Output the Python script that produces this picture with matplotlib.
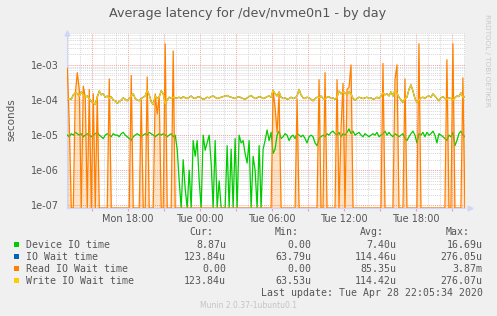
import matplotlib
matplotlib.use('Agg')
import matplotlib.pyplot as plt
import matplotlib.dates as mdates
import numpy as np
import pandas as pd
from matplotlib.ticker import FixedLocator, FixedFormatter, NullFormatter
from matplotlib.patches import Rectangle

# ---------------- data (5-min RRD sampled every 10 minutes, values in microseconds) -------------
start_time = '2020-04-27 12:55'
n_samples = 200

device_io_us = [
    10, 9, 11, 10, 12, 11, 10, 11, 9, 10,
    11, 10, 9, 10, 11, 12, 10, 9, 8, 10,
    11, 10, 9, 11, 10, 10, 9, 11, 12, 10,
    9, 8, 7, 9, 10, 11, 10, 9, 10, 11,
    10, 12, 11, 10, 9, 10, 11, 10, 11, 10,
    9, 10, 11, 9, 10, 4, 0.5, 0, 2, 0.3,
    0, 1, 0, 7, 2.5, 7, 0.5, 0, 10, 3.7,
    6, 10, 1.6, 0, 7, 0, 0.5, 0, 0, 0,
    5, 0, 4, 0, 8, 0, 10, 6, 7, 3,
    1.6, 7, 0, 2.5, 1, 0, 5, 0, 4, 7,
    14, 7, 12, 3, 4, 10, 13,
    8, 9, 11, 10, 7, 9, 10, 8, 11, 10,
    9, 10, 8, 6, 9, 10, 9, 6, 5, 8,
    9, 10, 9, 11, 10, 12, 13, 11, 10, 12,
    9, 11, 10, 12, 15, 11, 13, 10, 11, 12,
    10, 9, 11, 10, 9, 10, 11, 10, 12, 9,
    10, 11, 13, 10, 12, 10, 9, 11, 10, 9,
    10, 11, 8, 7, 9, 11, 13, 10, 6, 11,
    10, 12, 9, 12, 10, 11, 13, 10, 6, 11,
    10, 9, 8, 7, 10, 9, 12, 5, 7, 11,
    13, 10, 9,
]

write_wait_us = [
    100, 110, 105, 140, 160, 150, 130, 170, 140, 120,
    130, 110, 90, 85, 75, 120, 180, 140, 150, 120,
    130, 110, 125, 100, 95, 80, 90, 100, 115, 105,
    95, 110, 130, 150, 110, 100, 95, 110, 120, 130,
    190, 140, 90, 75, 130, 110, 120, 185, 150, 80,
    100, 120, 110, 120, 115,
    115, 120, 110, 125, 115, 110, 120, 130,
    115, 110, 120, 125, 115, 105, 110, 120,
    115, 125, 130, 120, 110, 115, 120, 125,
    130, 135, 125, 120, 115, 110, 120, 125,
    115, 110, 105, 115, 125, 135, 120, 110,
    115, 125, 120, 110, 115, 125, 130, 120,
    190, 150, 130, 170, 120, 110, 115, 105, 110, 120,
    110, 115, 130, 200, 140, 115, 110, 120, 115, 105,
    95, 110, 120, 115, 130, 110, 105, 120, 125, 110,
    115, 105, 120, 180, 150, 170, 160, 140, 170, 150,
    110, 100, 110, 120, 115, 110, 115, 120, 110, 115,
    105, 110, 120, 110, 130, 160, 140, 150, 130, 170,
    130, 190, 160, 120, 100, 85, 110, 120, 200, 270,
    180, 110, 85, 100, 115, 120, 110, 125, 130, 120,
    150, 130, 110, 95, 115, 125, 110, 105, 115, 110,
    100, 115, 130, 125, 160, 120, 124,
]

io_wait_us = list(write_wait_us)

read_wait_us = [
    800, 20, 0, 0, 150, 600, 200, 0, 250, 120,
    0, 200, 0, 150, 0, 130, 0, 0, 0, 0,
    0, 400, 0, 0, 0, 0, 0, 0, 0, 0,
    0, 0, 500, 0, 0, 0, 0, 100, 0, 0,
    450, 0, 0, 0, 150, 40, 130, 0, 0, 4000,
    0, 0, 0, 2500, 0, 0, 0, 0, 0, 0,
    0, 0, 0, 0, 0, 0, 0, 0, 0, 0,
    0, 0, 0, 0, 0, 0, 0, 0, 0, 0,
    0, 0, 0, 0, 0, 0, 0, 0, 0, 0,
    0, 0, 0, 0, 0, 0, 0, 0, 0, 0,
    0, 0, 0, 190, 60, 12, 150, 0, 0, 0,
    0, 0, 0, 0, 0, 110, 0, 0, 0, 0,
    0, 0, 0, 0, 0, 0, 380, 0, 0, 600,
    0, 0, 0, 0, 0, 380, 0, 15, 300, 0,
    200, 230, 1000, 0, 0, 0, 0, 0, 0, 0,
    0, 0, 0, 0, 0, 0, 0, 0, 1100, 0,
    0, 0, 0, 0, 380, 1000, 0, 0, 0, 400,
    0, 0, 0, 0, 0, 0, 4000, 0, 0, 0,
    0, 0, 0, 0, 0, 0, 0, 0, 0, 0,
    1400, 0, 0, 4000, 0, 0, 0, 0, 430, 0,
]

series_names = ['Device IO time', 'IO Wait time', 'Read IO Wait time', 'Write IO Wait time']
series_colors = ['#00CC00', '#0066B3', '#FF8000', '#FFCC00']
stat_cur = ['8.87u', '123.84u', '0.00', '123.84u']
stat_min = ['0.00', '63.79u', '0.00', '63.53u']
stat_avg = ['7.40u', '114.46u', '85.35u', '114.42u']
stat_max = ['16.69u', '276.05u', '3.87m', '276.07u']

ytick_values = [1e-7, 1e-6, 1e-5, 1e-4, 1e-3]
ytick_labels = ['1e-07', '1e-06', '1e-05', '1e-04', '1e-03']

title = 'Average latency for /dev/nvme0n1 - by day'
last_update = 'Last update: Tue Apr 28 22:05:34 2020'
# ---------------------------------------------------------------------------------------------

W, H = 497, 316
fig = plt.figure(figsize=(W / 100, H / 100), dpi=100, facecolor='#F0F0F0')
ax = fig.add_axes([67 / W, 1 - 208 / H, 398 / W, 175 / H])
ax.set_facecolor('white')

times = pd.date_range(start_time, periods=n_samples, freq='10min')
YMIN, YMAX = 8.4e-8, 8.1e-3


def to_plot(vals):
    a = np.asarray(vals, dtype=float) * 1e-6
    return np.where(a > 0, a, YMIN)


ax.set_yscale('log')
ax.set_ylim(YMIN, YMAX)
ax.set_xlim(pd.Timestamp('2020-04-27 12:53:30'), pd.Timestamp('2020-04-28 22:05:30'))

# grid
red_grid = '#F4A0A0'
gray_grid = '#D8D8D8'
dot = (0, (1, 1))
ax.yaxis.set_major_locator(FixedLocator(ytick_values))
ax.yaxis.set_major_formatter(FixedFormatter(ytick_labels))
minor_vals = [m * 10.0 ** e for e in range(-8, -2) for m in range(2, 10)]
ax.yaxis.set_minor_locator(FixedLocator(minor_vals))
ax.yaxis.set_minor_formatter(NullFormatter())

ax.xaxis.set_major_locator(mdates.HourLocator(byhour=range(0, 24, 3)))
ax.xaxis.set_minor_locator(mdates.HourLocator())


def fmt(x, pos=None):
    d = mdates.num2date(x)
    if d.hour % 6 == 0:
        return d.strftime('%a %H:%M')
    return ''


ax.xaxis.set_major_formatter(plt.FuncFormatter(fmt))

ax.grid(which='minor', axis='both', color=gray_grid, linestyle=dot, linewidth=0.7, zorder=0)
ax.grid(which='major', axis='both', color=red_grid, linestyle=dot, linewidth=0.7, zorder=0)
ax.set_axisbelow(True)

ax.tick_params(axis='both', which='both', length=0, labelsize=7, labelcolor='#555555')
ax.tick_params(axis='x', which='major', length=2, color=red_grid, pad=2)
ax.tick_params(axis='y', which='major', pad=6)

for s in ['top', 'right']:
    ax.spines[s].set_visible(False)
for s in ['left', 'bottom']:
    ax.spines[s].set_color('#CFD6F8')
    ax.spines[s].set_linewidth(0.8)

# data
orange_plot = to_plot(read_wait_us)
ax.fill_between(times, orange_plot, YMIN, color='#FF8000', alpha=0.22, linewidth=0, zorder=2)
lw = 0.9
ax.plot(times, to_plot(device_io_us), color=series_colors[0], lw=lw, zorder=3)
ax.plot(times, to_plot(io_wait_us), color=series_colors[1], lw=lw, zorder=3)
ax.plot(times, orange_plot, color=series_colors[2], lw=lw, zorder=3)
ax.plot(times, to_plot(write_wait_us), color=series_colors[3], lw=lw, zorder=3)

# arrows
ax.plot([0], [1.0], marker='^', color='#CFD6F8', markersize=3.5, transform=ax.transAxes, clip_on=False)
ax.plot([1.012], [0], marker='>', color='#CFD6F8', markersize=3.5, transform=ax.transAxes, clip_on=False)

fig.text(11 / W, 1 - 120 / H, 'seconds', rotation=90, ha='center', va='center', fontsize=7.5, color='#555555')

fig.text(248 / W, 1 - 14 / H, title, ha='center', va='center', fontsize=9.2, color='#555555')
fig.text(487 / W, 1 - 14 / H, 'RRDTOOL / TOBI OETIKER', rotation=270, ha='center', va='top',
         fontsize=5.2, color='#C8C8C8')

mono = 'DejaVu Sans Mono'
fs = 7.1
tc = '#555555'
hy = 1 - 232 / H
for lab, xr in zip(['Cur:', 'Min:', 'Avg:', 'Max:'], [213, 299, 384, 470]):
    fig.text(xr / W, hy, lab, ha='right', va='center', family=mono, fontsize=fs, color=tc)
row_y = [244.5, 256.5, 268.5, 280.5]
for i, name in enumerate(series_names):
    yy = 1 - row_y[i] / H
    fig.patches.append(Rectangle((14 / W, yy - 2.7 / H), 5.3 / W, 5.3 / H, transform=fig.transFigure,
                                 facecolor=series_colors[i], edgecolor='none'))
    fig.text(26 / W, yy, name, ha='left', va='center', family=mono, fontsize=fs, color=tc)
    for val, xr in zip([stat_cur[i], stat_min[i], stat_avg[i], stat_max[i]], [226, 311.7, 396.7, 482.7]):
        fig.text(xr / W, yy, val, ha='right', va='center', family=mono, fontsize=fs, color=tc)
fig.text(482.7 / W, 1 - 292.7 / H, last_update, ha='right', va='center', family=mono, fontsize=fs, color=tc)
fig.text(248 / W, 1 - 305.3 / H, 'Munin 2.0.37-1ubuntu0.1', ha='center', va='center', fontsize=5.5,
         color='#C4C4C4')

fig.savefig('out.png', dpi=100, facecolor=fig.get_facecolor())
